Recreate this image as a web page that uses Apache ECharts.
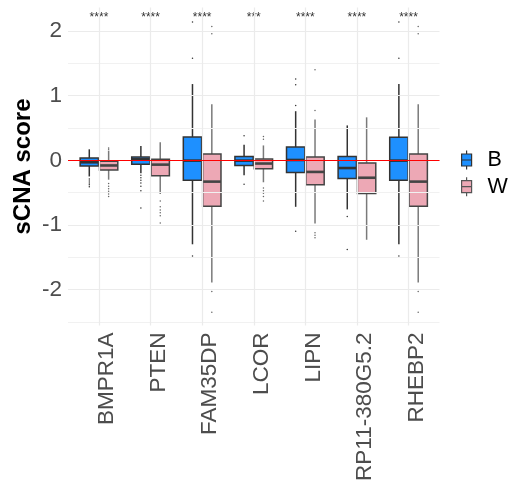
<!DOCTYPE html>
<html>
<head>
<meta charset="utf-8">
<script src="https://cdn.jsdelivr.net/npm/echarts@6/dist/echarts.min.js"></script>
<style>
  html, body { margin: 0; padding: 0; background: #ffffff; }
  #chart { width: 508px; height: 490px; }
</style>
</head>
<body>
<div id="chart"></div>
<script>
// Genes on the x axis
const genes = ['BMPR1A', 'PTEN', 'FAM35DP', 'LCOR', 'LIPN', 'RP11-380G5.2', 'RHEBP2'];

// Box statistics per gene: [lower whisker, Q1, median, Q3, upper whisker]
const statsB = [
  [-0.25, -0.088, -0.031, 0.036, 0.17],
  [-0.20, -0.06, 0.015, 0.05, 0.22],
  [-1.30, -0.31, -0.005, 0.36, 1.18],
  [-0.23, -0.08, -0.005, 0.06, 0.24],
  [-0.72, -0.19, 0.005, 0.206, 0.76],
  [-0.76, -0.28, -0.12, 0.06, 0.54],
  [-1.30, -0.31, -0.005, 0.356, 1.18]
];
const statsW = [
  [-0.30, -0.15, -0.08, -0.015, 0.15],
  [-0.52, -0.24, -0.067, 0.015, 0.28],
  [-1.89, -0.71, -0.33, 0.098, 0.866],
  [-0.34, -0.13, -0.05, 0.02, 0.23],
  [-0.98, -0.38, -0.18, 0.05, 0.63],
  [-1.23, -0.515, -0.27, -0.04, 0.665],
  [-1.89, -0.71, -0.33, 0.098, 0.866]
];

// Outlying points per gene
const outliersB = [
  [-0.29, -0.32, -0.35, -0.38, -0.41],
  [-0.23, -0.27, -0.31, -0.35, -0.40, -0.47, -0.74],
  [1.58, 2.14, -1.48],
  [0.38, -0.37],
  [0.85, 1.17, 1.26, -1.10],
  [-0.87, -1.38],
  [1.58, 2.14, -1.48]
];
const outliersW = [
  [0.19, 0.17, -0.36, -0.40, -0.44, -0.48, -0.52, -0.56],
  [-0.63, -0.72, -0.77, -0.81, -0.86, -0.97],
  [2.07, 1.96, -2.03, -2.35],
  [0.37, 0.325, -0.43, -0.47, -0.51, -0.56, -0.63],
  [0.77, 1.40, -1.12, -1.16, -1.20],
  [],
  [2.07, 1.96, -2.03, -2.35]
];

// Significance labels (B vs W) and the height they sit at
const signif = ['****', '****', '****', '***', '****', '****', '****'];
const signifY = 2.21;

// Y axis ticks and grid lines
const yTicks = [-2, -1, 0, 1, 2];
const yMinor = [-2.5, -1.5, -0.5, 0.5, 1.5];
const yRange = [-2.557, 2.365];

const FONT = '"Liberation Sans", Arial, sans-serif';
const DODGE = 0.1875;   // half of the dodge distance, in category units
const BOX_W = 0.355;    // box width, in category units
const BLUE = '#1E90FF';
const PINK = '#EDA8B5';

const xPos = genes.map((g, i) => i + 1);

function boxData(stats) {
  return stats.map((s, i) => [xPos[i]].concat(s));
}
function pointData(groups) {
  const out = [];
  groups.forEach((vals, i) => vals.forEach(v => out.push([xPos[i], v])));
  return out;
}

function renderBox(offset, fill, border, whisker) {
  return function (params, api) {
    const x = api.value(0);
    const unit = api.size([1, 0])[0];
    const cx = api.coord([x, 0])[0] + offset * unit;
    const half = BOX_W * unit / 2;
    const py = k => api.coord([x, api.value(k)])[1];
    const lo = py(1), q1 = py(2), md = py(3), q3 = py(4), hi = py(5);
    return {
      type: 'group',
      children: [
        { type: 'line', shape: { x1: cx, y1: hi, x2: cx, y2: q3 }, style: { stroke: whisker, lineWidth: 1.5 } },
        { type: 'line', shape: { x1: cx, y1: q1, x2: cx, y2: lo }, style: { stroke: whisker, lineWidth: 1.5 } },
        { type: 'rect', shape: { x: cx - half, y: q3, width: 2 * half, height: q1 - q3 },
          style: { fill: fill, stroke: border, lineWidth: 1.5 } },
        { type: 'line', shape: { x1: cx - half, y1: md, x2: cx + half, y2: md }, style: { stroke: border, lineWidth: 2.6 } }
      ]
    };
  };
}

function renderPoints(offset, color) {
  return function (params, api) {
    const unit = api.size([1, 0])[0];
    const p = api.coord([api.value(0), api.value(1)]);
    return { type: 'circle', shape: { cx: p[0] + offset * unit, cy: p[1], r: 0.75 }, style: { fill: color } };
  };
}

const gridLines = [].concat(
  yMinor.map(v => ({ yAxis: v, lineStyle: { color: '#F1F1F1', width: 1 } })),
  yTicks.map(v => ({ yAxis: v, lineStyle: { color: '#EBEBEB', width: 1.2 } })),
  xPos.map(v => ({ xAxis: v, lineStyle: { color: '#EBEBEB', width: 1.2 } }))
);

const keyIcon = 'path://M5,0L5,3.5M0,3.5L10,3.5L10,15.5L0,15.5ZM0,9.5L10,9.5M5,15.5L5,19';

const chart = echarts.init(document.getElementById('chart'), null, { renderer: 'canvas' });
chart.setOption({
  animation: false,
  backgroundColor: '#ffffff',
  grid: { left: 68, right: 68.5, top: 7.5, bottom: 164.5, containLabel: false },
  legend: {
    orient: 'vertical',
    left: 461,
    top: 149,
    padding: 0,
    itemWidth: 10,
    itemHeight: 19,
    itemGap: 4.7,
    selectedMode: false,
    textStyle: { fontFamily: FONT, fontSize: 21.5, color: '#000000', padding: [0, 0, 0, 11] },
    data: [
      { name: 'B', icon: keyIcon, itemStyle: { color: BLUE, borderColor: '#333333', borderWidth: 1.2 } },
      { name: 'W', icon: keyIcon, itemStyle: { color: PINK, borderColor: '#555555', borderWidth: 1.2 } }
    ]
  },
  xAxis: {
    type: 'value',
    min: 0.4,
    max: 7.6,
    axisLine: { show: false },
    axisTick: { show: false },
    splitLine: { show: false },
    axisLabel: {
      customValues: xPos,
      formatter: v => genes[Math.round(v) - 1],
      rotate: 90,
      margin: 7,
      verticalAlign: 'top',
      lineHeight: 16,
      fontFamily: FONT,
      fontSize: 22.5,
      color: '#4D4D4D'
    }
  },
  yAxis: {
    type: 'value',
    min: yRange[0],
    max: yRange[1],
    axisLine: { show: false },
    axisTick: { show: false },
    splitLine: { show: false },
    axisLabel: {
      customValues: yTicks,
      formatter: v => String(v),
      margin: 6,
      fontFamily: FONT,
      fontSize: 22.5,
      color: '#4D4D4D'
    },
    name: 'sCNA score',
    nameLocation: 'middle',
    nameRotate: 90,
    nameGap: 33,
    nameMoveOverlap: false,
    nameTextStyle: { fontFamily: FONT, fontSize: 24, fontWeight: 'bold', color: '#000000' }
  },
  series: [
    {
      name: 'grid',
      type: 'line',
      data: [],
      silent: true,
      z: 0,
      markLine: { symbol: 'none', silent: true, animation: false, label: { show: false },
        lineStyle: { type: 'solid' }, data: gridLines }
    },
    {
      name: 'zero',
      type: 'line',
      data: [],
      silent: true,
      z: 1,
      markLine: { symbol: 'none', silent: true, animation: false, label: { show: false },
        lineStyle: { type: 'solid', color: '#FF0000', width: 1.2 }, data: [{ yAxis: 0 }] }
    },
    {
      name: 'B',
      type: 'custom',
      z: 2,
      itemStyle: { color: BLUE },
      encode: { x: 0, y: [1, 2, 3, 4, 5] },
      data: boxData(statsB),
      renderItem: renderBox(-DODGE, BLUE, '#333333', '#333333')
    },
    {
      name: 'W',
      type: 'custom',
      z: 2,
      itemStyle: { color: PINK },
      encode: { x: 0, y: [1, 2, 3, 4, 5] },
      data: boxData(statsW),
      renderItem: renderBox(DODGE, PINK, '#444444', '#7A7A7A')
    },
    {
      name: 'B outliers',
      type: 'custom',
      z: 3,
      encode: { x: 0, y: 1 },
      data: pointData(outliersB),
      renderItem: renderPoints(-DODGE, '#333333')
    },
    {
      name: 'W outliers',
      type: 'custom',
      z: 3,
      encode: { x: 0, y: 1 },
      data: pointData(outliersW),
      renderItem: renderPoints(DODGE, '#666666')
    },
    {
      name: 'signif',
      type: 'custom',
      z: 3,
      encode: { x: 0, y: 1 },
      data: xPos.map(x => [x, signifY]),
      renderItem: function (params, api) {
        const p = api.coord([api.value(0), api.value(1)]);
        return {
          type: 'text',
          x: p[0],
          y: p[1],
          style: { text: signif[params.dataIndex], fill: '#333333',
            font: '12px ' + FONT, align: 'center', verticalAlign: 'middle' }
        };
      }
    }
  ]
});
</script>
</body>
</html>
